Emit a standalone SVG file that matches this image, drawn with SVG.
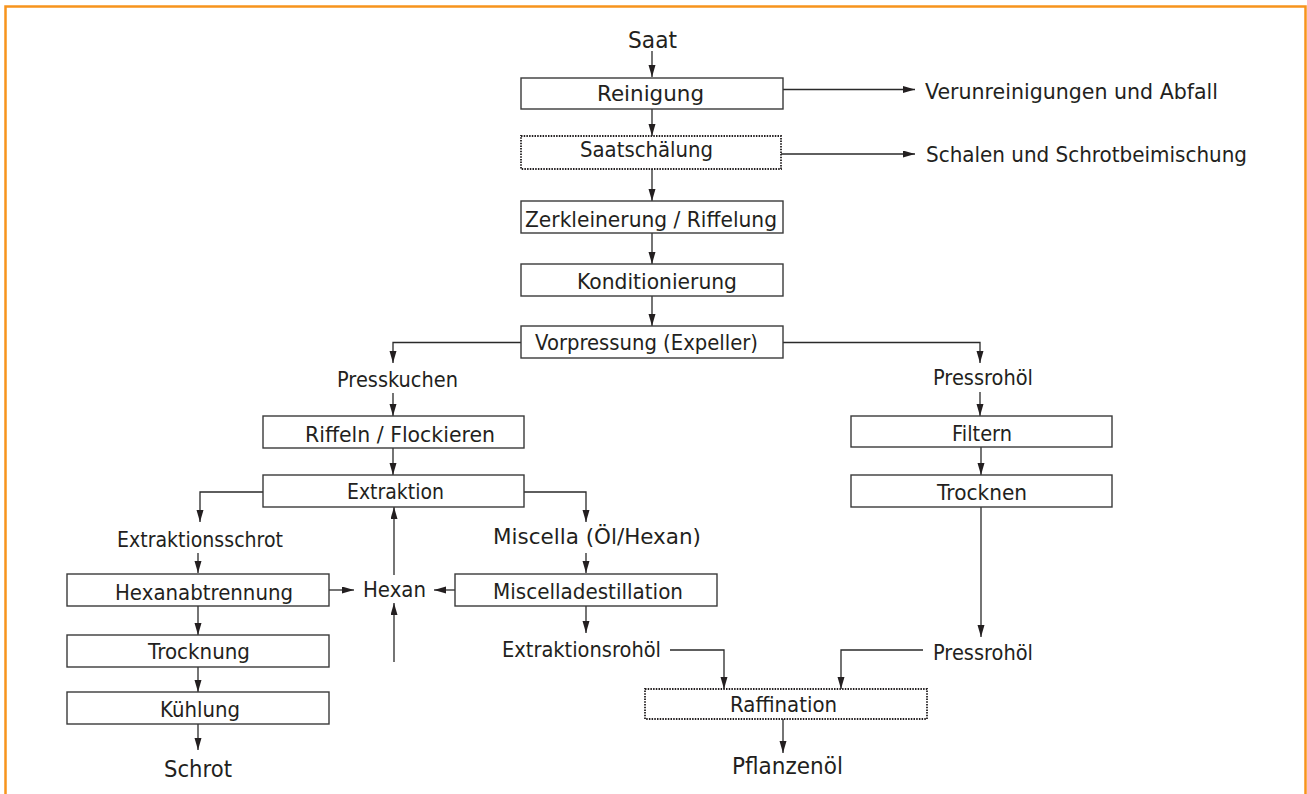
<svg xmlns="http://www.w3.org/2000/svg" width="1307" height="794" viewBox="0 0 1307 794">
<defs>
<marker id="ah" markerUnits="userSpaceOnUse" markerWidth="12" markerHeight="8" refX="12" refY="3.5" orient="auto">
<path d="M0,0 L12,3.5 L0,7 z" fill="#231f20"/>
</marker>
<style>
.bx{fill:#fff;stroke:#3a3a3a;stroke-width:1.4}
.dt{fill:#fff;stroke:#231f20;stroke-width:1.8;stroke-dasharray:1.5 1.2}
.t{font-family:"DejaVu Sans","Liberation Sans",sans-serif;font-size:21px;fill:#231f20}
.tl{font-family:"DejaVu Sans","Liberation Sans",sans-serif;font-size:23px;fill:#231f20}
.ca{fill:none;stroke:#2a2a2a;stroke-width:1.3;marker-end:url(#ah)}
</style>
</defs>
<rect width="1307" height="794" fill="#fff"/>
<path d="M5.5,794 V6.5 H1305.5 V794" fill="none" stroke="#f7941d" stroke-width="2.5"/>

<g id="connectors">
<path class="ca" d="M652,51 V77"/>
<path class="ca" d="M652,109 V136"/>
<path class="ca" d="M783,89.5 H915"/>
<path class="ca" d="M781,154 H915"/>
<path class="ca" d="M652,169 V201"/>
<path class="ca" d="M652,233 V264"/>
<path class="ca" d="M652,296 V326"/>
<path class="ca" d="M521,342.5 H393 V363"/>
<path class="ca" d="M393,393 V416"/>
<path class="ca" d="M393,448 V475"/>
<path class="ca" d="M783,342.5 H980 V363"/>
<path class="ca" d="M980,392 V416"/>
<path class="ca" d="M981,447 V475"/>
<path class="ca" d="M981,507 V637"/>
<path class="ca" d="M263,492 H200 V522"/>
<path class="ca" d="M198,553 V573"/>
<path class="ca" d="M524,492 H586 V522"/>
<path class="ca" d="M586,553 V573"/>
<path class="ca" d="M329,590 H354"/>
<path class="ca" d="M455,590 H434"/>
<path class="ca" d="M394,575 V507"/>
<path class="ca" d="M394,662 V603"/>
<path class="ca" d="M198,606 V635"/>
<path class="ca" d="M198,667 V692"/>
<path class="ca" d="M198,724 V750"/>
<path class="ca" d="M586,606 V633"/>
<path class="ca" d="M670,650 H724 V689"/>
<path class="ca" d="M923,650 H841 V689"/>
<path class="ca" d="M783,719 V753"/>
</g>

<g id="saat"><text class="tl" x="628" y="48" textLength="49" lengthAdjust="spacingAndGlyphs">Saat</text></g>
<g id="reinigung"><rect class="bx" x="521" y="78" width="262" height="31"/><text class="t" x="597" y="101" textLength="107" lengthAdjust="spacingAndGlyphs">Reinigung</text></g>
<g id="abfall"><text class="t" x="925" y="99" textLength="293" lengthAdjust="spacingAndGlyphs">Verunreinigungen und Abfall</text></g>
<g id="saatschaelung"><rect class="dt" x="521" y="136" width="260" height="33"/><text class="t" x="580" y="157" textLength="133" lengthAdjust="spacingAndGlyphs">Saatschälung</text></g>
<g id="schalen"><text class="t" x="926" y="162" textLength="321" lengthAdjust="spacingAndGlyphs">Schalen und Schrotbeimischung</text></g>
<g id="zerkleinerung"><rect class="bx" x="521" y="201" width="262" height="32"/><text class="t" x="525" y="227" textLength="252" lengthAdjust="spacingAndGlyphs">Zerkleinerung / Riffelung</text></g>
<g id="konditionierung"><rect class="bx" x="521" y="264" width="262" height="32"/><text class="t" x="577" y="289" textLength="160" lengthAdjust="spacingAndGlyphs">Konditionierung</text></g>
<g id="vorpressung"><rect class="bx" x="521" y="326" width="262" height="32"/><text class="t" x="535" y="350" textLength="223" lengthAdjust="spacingAndGlyphs">Vorpressung (Expeller)</text></g>
<g id="presskuchen"><text class="t" x="337" y="387" textLength="121" lengthAdjust="spacingAndGlyphs">Presskuchen</text></g>
<g id="pressrohoel1"><text class="t" x="933" y="385" textLength="100" lengthAdjust="spacingAndGlyphs">Pressrohöl</text></g>
<g id="riffeln"><rect class="bx" x="263" y="416" width="261" height="32"/><text class="t" x="305" y="442" textLength="190" lengthAdjust="spacingAndGlyphs">Riffeln / Flockieren</text></g>
<g id="filtern"><rect class="bx" x="851" y="416" width="261" height="31"/><text class="t" x="952" y="441" textLength="60" lengthAdjust="spacingAndGlyphs">Filtern</text></g>
<g id="extraktion"><rect class="bx" x="263" y="475" width="261" height="32"/><text class="t" x="347" y="499" textLength="97" lengthAdjust="spacingAndGlyphs">Extraktion</text></g>
<g id="trocknen"><rect class="bx" x="851" y="475" width="261" height="32"/><text class="t" x="937" y="500" textLength="90" lengthAdjust="spacingAndGlyphs">Trocknen</text></g>
<g id="extraktionsschrot"><text class="t" x="117" y="547" textLength="166" lengthAdjust="spacingAndGlyphs">Extraktionsschrot</text></g>
<g id="miscella"><text class="t" x="493" y="544" textLength="208" lengthAdjust="spacingAndGlyphs">Miscella (Öl/Hexan)</text></g>
<g id="hexanabtrennung"><rect class="bx" x="67" y="574" width="262" height="32"/><text class="t" x="115" y="600" textLength="178" lengthAdjust="spacingAndGlyphs">Hexanabtrennung</text></g>
<g id="hexan"><text class="t" x="363" y="597" textLength="63" lengthAdjust="spacingAndGlyphs">Hexan</text></g>
<g id="miscelladestillation"><rect class="bx" x="455" y="574" width="262" height="32"/><text class="t" x="493" y="599" textLength="190" lengthAdjust="spacingAndGlyphs">Miscelladestillation</text></g>
<g id="trocknung"><rect class="bx" x="67" y="635" width="262" height="32"/><text class="t" x="148" y="659" textLength="102" lengthAdjust="spacingAndGlyphs">Trocknung</text></g>
<g id="extraktionsrohoel"><text class="t" x="502" y="657" textLength="159" lengthAdjust="spacingAndGlyphs">Extraktionsrohöl</text></g>
<g id="pressrohoel2"><text class="t" x="933" y="660" textLength="100" lengthAdjust="spacingAndGlyphs">Pressrohöl</text></g>
<g id="kuehlung"><rect class="bx" x="67" y="692" width="262" height="32"/><text class="t" x="160" y="717" textLength="80" lengthAdjust="spacingAndGlyphs">Kühlung</text></g>
<g id="raffination"><rect class="dt" x="645" y="689" width="282" height="30"/><text class="t" x="730" y="712" textLength="107" lengthAdjust="spacingAndGlyphs">Raffination</text></g>
<g id="schrot"><text class="tl" x="164" y="777" textLength="68" lengthAdjust="spacingAndGlyphs">Schrot</text></g>
<g id="pflanzenoel"><text class="tl" x="732" y="774" textLength="111" lengthAdjust="spacingAndGlyphs">Pflanzenöl</text></g>
</svg>
